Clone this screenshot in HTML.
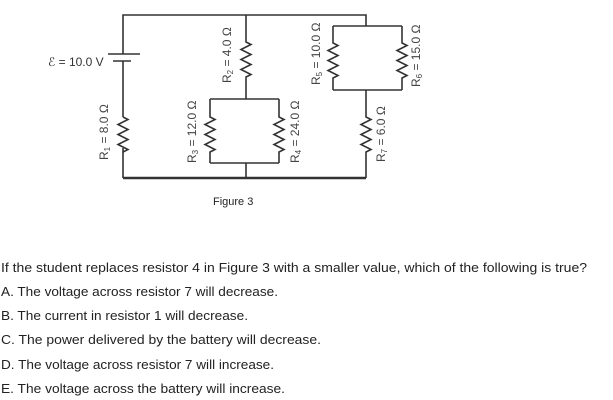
<!DOCTYPE html>
<html><head><style>
html,body{margin:0;padding:0;background:#fff;width:613px;height:400px;overflow:hidden}
svg{display:block}
.w{stroke:#333;stroke-width:1.6;fill:none}
.lab{font-family:"Liberation Sans",sans-serif;font-size:12px;fill:#444}
.q{font-family:"Liberation Sans",sans-serif;font-size:13px;fill:#222}
</style></head><body>
<svg width="613" height="400" viewBox="0 0 613 400">
<!-- main wires -->
<path class="w" d="M123 54 V15 H366 V26"/>
<path class="w" d="M123 61 V117 M123 148 V178"/>
<path class="w" d="M123 178 H366" style="stroke-width:2.4"/>
<!-- battery -->
<path class="w" d="M108 54 H140 M113 61 H131"/>
<!-- R1 zig -->
<path class="w" d="M123 117 l5 2.5 l-10 5 l10 5 l-10 5 l10 5 l-10 5 l10 5 l-5 2.5"/>
<!-- R2 branch -->
<path class="w" d="M246 15 V42 l5 2.5 l-10 5 l10 5 l-10 5 l10 5 l-10 5 l10 5 l-5 2.5 V99"/>
<path class="w" d="M210 99 H279 M210 163 H279 M246 163 V178"/>
<path class="w" d="M210 99 V117 l5 2.5 l-10 5 l10 5 l-10 5 l10 5 l-10 5 l10 5 l-5 2.5 V163"/>
<path class="w" d="M279 99 V117 l5 2.5 l-10 5 l10 5 l-10 5 l10 5 l-10 5 l10 5 l-5 2.5 V163"/>
<!-- R5/R6 box -->
<path class="w" d="M333 26 H402 M333 90 H402"/>
<path class="w" d="M333 26 V43 l5 2.5 l-10 5 l10 5 l-10 5 l10 5 l-10 5 l10 5 l-5 2.5 V90"/>
<path class="w" d="M402 26 V43 l5 2.5 l-10 5 l10 5 l-10 5 l10 5 l-10 5 l10 5 l-5 2.5 V90"/>
<path class="w" d="M366 90 V117 l5 2.5 l-10 5 l10 5 l-10 5 l10 5 l-10 5 l10 5 l-5 2.5 V178"/>
<!-- labels -->
<text class="lab" x="48" y="66" style="fill:#333">ℰ = 10.0 V</text>
<text class="lab" transform="translate(108,160) rotate(-90)">R<tspan font-size="8" dy="2">1</tspan><tspan dy="-2"> = 8.0 Ω</tspan></text>
<text class="lab" transform="translate(231,83) rotate(-90)">R<tspan font-size="8" dy="2">2</tspan><tspan dy="-2"> = 4.0 Ω</tspan></text>
<text class="lab" transform="translate(196,163) rotate(-90)">R<tspan font-size="8" dy="2">3</tspan><tspan dy="-2"> = 12.0 Ω</tspan></text>
<text class="lab" transform="translate(299,163) rotate(-90)">R<tspan font-size="8" dy="2">4</tspan><tspan dy="-2"> = 24.0 Ω</tspan></text>
<text class="lab" transform="translate(320,85) rotate(-90)">R<tspan font-size="8" dy="2">5</tspan><tspan dy="-2"> = 10.0 Ω</tspan></text>
<text class="lab" transform="translate(420,87) rotate(-90)">R<tspan font-size="8" dy="2">6</tspan><tspan dy="-2"> = 15.0 Ω</tspan></text>
<text class="lab" transform="translate(385,162) rotate(-90)">R<tspan font-size="8" dy="2">7</tspan><tspan dy="-2"> = 6.0 Ω</tspan></text>
<text x="213" y="205" style="font-family:'Liberation Sans',sans-serif;font-size:11px;fill:#222">Figure 3</text>
<!-- question -->
<text class="q" x="1" y="272" textLength="586" lengthAdjust="spacingAndGlyphs">If the student replaces resistor 4 in Figure 3 with a smaller value, which of the following is true?</text>
<text class="q" x="1" y="296" textLength="277" lengthAdjust="spacingAndGlyphs">A. The voltage across resistor 7 will decrease.</text>
<text class="q" x="1" y="320" textLength="247" lengthAdjust="spacingAndGlyphs">B. The current in resistor 1 will decrease.</text>
<text class="q" x="1" y="344" textLength="320" lengthAdjust="spacingAndGlyphs">C. The power delivered by the battery will decrease.</text>
<text class="q" x="1" y="369" textLength="273" lengthAdjust="spacingAndGlyphs">D. The voltage across resistor 7 will increase.</text>
<text class="q" x="1" y="393" textLength="284" lengthAdjust="spacingAndGlyphs">E. The voltage across the battery will increase.</text>
</svg>
</body></html>
